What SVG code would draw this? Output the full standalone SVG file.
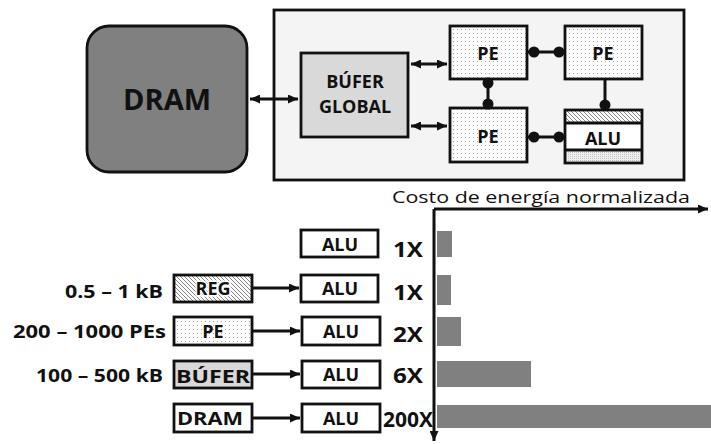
<svg xmlns="http://www.w3.org/2000/svg" width="711" height="444" viewBox="0 0 711 444">
<style>
text{font-family:"Open Sans","DejaVu Sans",sans-serif;font-weight:bold;fill:#111;}
.box{stroke:#111;stroke-width:2.8;}
.ln{stroke:#111;stroke-width:3;fill:none;}
.dot{fill:#111;}
.bar{fill:#808080;}
.lbl{font-size:18px;text-anchor:middle;}
.cost{font-size:22px;text-anchor:middle;}
.side{font-size:17px;text-anchor:end;}
</style>
<defs>
<pattern id="dots" width="4" height="4" patternUnits="userSpaceOnUse">
<rect width="4" height="4" fill="#ffffff"/>
<rect x="1" y="1" width="1" height="1" fill="#a8a8a8"/>
</pattern>
<pattern id="dense" width="2" height="2" patternUnits="userSpaceOnUse">
<rect width="2" height="2" fill="#f0f0f0"/>
<rect width="1" height="1" fill="#c0c0c0"/>
</pattern>
<pattern id="hatch" width="4" height="4" patternUnits="userSpaceOnUse">
<rect width="4" height="4" fill="#ffffff"/>
<path d="M-1,-1 L5,5 M3,-1 L5,1 M-1,3 L1,5" stroke="#888888" stroke-width="1"/>
</pattern>
<marker id="ah" viewBox="0 0 10 9" refX="10" refY="4.5" markerWidth="10" markerHeight="9" markerUnits="userSpaceOnUse" orient="auto-start-reverse">
<path d="M0,0 L10,4.5 L0,9 z" fill="#111"/>
</marker>
<marker id="ahs" viewBox="0 0 10 9" refX="10" refY="4.5" markerWidth="10" markerHeight="9" markerUnits="userSpaceOnUse" orient="auto-start-reverse">
<path d="M0,0 L10,4.5 L0,9 z" fill="#111"/>
</marker>
</defs>
<rect width="711" height="444" fill="#ffffff"/>

<g id="container">
<rect x="274" y="10" width="410" height="170" fill="#f4f4f4" class="box" stroke-width="2.2"/>
</g>

<g id="dram">
<rect x="87" y="26" width="160" height="146" rx="22" fill="#808080" class="box"/>
<text x="167" y="110" font-size="29" text-anchor="middle">DRAM</text>
</g>

<g id="bufer-global">
<rect x="301" y="53" width="107" height="84" fill="#d9d9d9" class="box"/>
<text x="355" y="88" class="lbl" font-size="17">BÚFER</text>
<text x="355" y="113" class="lbl" font-size="17">GLOBAL</text>
</g>

<g id="pe1">
<rect x="450" y="26" width="77" height="53" fill="url(#dots)" class="box"/>
<text x="488" y="60" class="lbl">PE</text>
</g>
<g id="pe2">
<rect x="565" y="26" width="77" height="53" fill="url(#dots)" class="box"/>
<text x="603" y="60" class="lbl">PE</text>
</g>
<g id="pe3">
<rect x="450" y="108" width="77" height="54" fill="url(#dots)" class="box"/>
<text x="488" y="143" class="lbl">PE</text>
</g>
<g id="alu-pe">
<rect x="565" y="110" width="77" height="13" fill="url(#hatch)"/>
<rect x="565" y="123" width="77" height="27" fill="#ffffff"/>
<rect x="565" y="150" width="77" height="13" fill="url(#dense)"/>
<rect x="565" y="110" width="77" height="53" fill="none" class="box"/>
<line x1="565" y1="123" x2="642" y2="123" class="ln" stroke-width="2"/>
<line x1="565" y1="150" x2="642" y2="150" class="ln" stroke-width="2"/>
<text x="603" y="145" class="lbl" font-size="19">ALU</text>
</g>

<g id="connectors">
<line x1="250" y1="99" x2="298" y2="99" class="ln" marker-start="url(#ah)" marker-end="url(#ah)"/>
<line x1="411" y1="64" x2="447" y2="64" class="ln" marker-start="url(#ah)" marker-end="url(#ah)"/>
<line x1="411" y1="126" x2="447" y2="126" class="ln" marker-start="url(#ah)" marker-end="url(#ah)"/>
<line x1="527" y1="52" x2="565" y2="52" class="ln"/>
<circle cx="534" cy="52" r="5.5" class="dot"/><circle cx="559" cy="52" r="5.5" class="dot"/>
<line x1="527" y1="137" x2="565" y2="137" class="ln"/>
<circle cx="534" cy="137" r="5.5" class="dot"/><circle cx="559" cy="137" r="5.5" class="dot"/>
<line x1="488" y1="79" x2="488" y2="108" class="ln"/>
<circle cx="488" cy="83" r="5.5" class="dot"/><circle cx="488" cy="104" r="5.5" class="dot"/>
<line x1="605" y1="79" x2="605" y2="110" class="ln"/>
<circle cx="605" cy="105" r="5.5" class="dot"/>

<line x1="252" y1="288" x2="299" y2="288" class="ln" stroke-width="2.2" marker-end="url(#ahs)"/>
<line x1="252" y1="331" x2="300" y2="331" class="ln" stroke-width="2.2" marker-end="url(#ahs)"/>
<line x1="252" y1="374" x2="300" y2="374" class="ln" stroke-width="2.2" marker-end="url(#ahs)"/>
<line x1="252" y1="418" x2="300" y2="418" class="ln" stroke-width="2.2" marker-end="url(#ahs)"/>

<line x1="434" y1="209" x2="708" y2="209" class="ln" stroke-width="2.2" marker-end="url(#ah)"/>
<line x1="434" y1="209" x2="434" y2="441" class="ln" stroke-width="2.2" marker-end="url(#ah)"/>
</g>

<g id="chart">
<text x="392" y="203" font-size="16" textLength="298" lengthAdjust="spacingAndGlyphs" style="font-weight:normal">Costo de energía normalizada</text>
<rect x="437" y="231" width="15" height="26" class="bar"/>
<rect x="437" y="275" width="14" height="30" class="bar"/>
<rect x="437" y="317" width="24" height="29" class="bar"/>
<rect x="437" y="361" width="94" height="26" class="bar"/>
<rect x="437" y="405" width="274" height="23" class="bar"/>
</g>

<g id="row1">
<rect x="301" y="230" width="77" height="27" fill="#ffffff" class="box"/>
<text x="340" y="251" class="lbl">ALU</text>
<text x="408" y="257" class="cost" textLength="30" lengthAdjust="spacingAndGlyphs">1X</text>
</g>
<g id="row2">
<text x="163" y="298" class="side" textLength="98" lengthAdjust="spacingAndGlyphs">0.5 – 1 kB</text>
<rect x="174" y="275" width="78" height="27" fill="url(#hatch)" class="box"/>
<text x="213" y="295" class="lbl" stroke="#ffffff" stroke-width="3" paint-order="stroke">REG</text>
<rect x="301" y="275" width="77" height="27" fill="#ffffff" class="box"/>
<text x="340" y="295" class="lbl">ALU</text>
<text x="408" y="300" class="cost" textLength="30" lengthAdjust="spacingAndGlyphs">1X</text>
</g>
<g id="row3">
<text x="166" y="338" class="side" textLength="153" lengthAdjust="spacingAndGlyphs">200 – 1000 PEs</text>
<rect x="174" y="317" width="78" height="28" fill="url(#dots)" class="box"/>
<text x="213" y="338" class="lbl">PE</text>
<rect x="302" y="317" width="78" height="28" fill="#ffffff" class="box"/>
<text x="341" y="338" class="lbl">ALU</text>
<text x="408" y="342" class="cost" textLength="30" lengthAdjust="spacingAndGlyphs">2X</text>
</g>
<g id="row4">
<text x="163" y="382" class="side" textLength="127" lengthAdjust="spacingAndGlyphs">100 – 500 kB</text>
<rect x="174" y="361" width="78" height="27" fill="#d9d9d9" class="box"/>
<text x="213" y="383" class="lbl" font-size="21" textLength="74" lengthAdjust="spacingAndGlyphs">BÚFER</text>
<rect x="302" y="361" width="78" height="27" fill="#ffffff" class="box"/>
<text x="341" y="381" class="lbl">ALU</text>
<text x="408" y="383" class="cost" textLength="30" lengthAdjust="spacingAndGlyphs">6X</text>
</g>
<g id="row5">
<rect x="174" y="404" width="78" height="28" fill="#ffffff" class="box"/>
<text x="210" y="425" class="lbl" font-size="20" textLength="66" lengthAdjust="spacingAndGlyphs">DRAM</text>
<rect x="302" y="404" width="78" height="28" fill="#ffffff" class="box"/>
<text x="341" y="425" class="lbl">ALU</text>
<text x="408" y="427" class="cost" font-size="19" textLength="50" lengthAdjust="spacingAndGlyphs">200X</text>
</g>
</svg>
